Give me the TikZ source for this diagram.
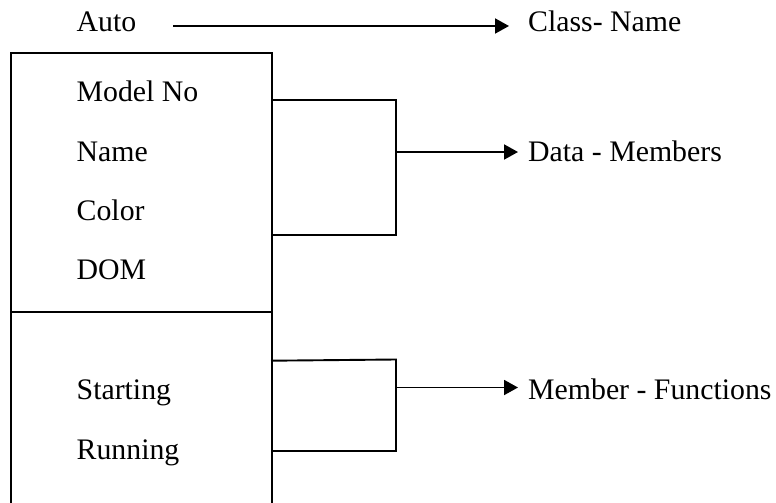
\documentclass[tikz,border=0pt]{standalone}
\usepackage{fontspec}
\setmainfont{Liberation Serif}
\usetikzlibrary{arrows.meta}
\begin{document}
\begin{tikzpicture}[x=1pt,y=-1pt,
  line/.style={line width=1.9pt, line cap=butt},
  arr/.style={line, -{Triangle[length=14pt,width=15pt]}},
  lbl/.style={inner sep=0pt, anchor=base west, font=\fontsize{29.8}{35}\selectfont}]
\useasboundingbox (0,0) rectangle (776,503);
\clip (0,0) rectangle (776,503);

% class outline (runs past the lower edge) and the member divider
\node[line, draw, inner sep=0pt, anchor=north west, minimum width=261pt, minimum height=480pt] (cls) at (10,51.7) {};
\coordinate (divL) at (10,312);
\coordinate (divR) at (271,312);
\draw[line] (divL) -- (divR);

% labels
\node[lbl] (auto)  at (76.5,32)  {Auto};
\node[lbl] (cname) at (528,32)   {Class- Name};
\node[lbl] (model) at (76.5,101) {Model No};
\node[lbl] (name)  at (76.5,161) {Name};
\node[lbl] (color) at (76.5,220) {Color};
\node[lbl] (dom)   at (76.5,279) {DOM};
\node[lbl] (start) at (76.5,399) {Starting};
\node[lbl] (run)   at (76.5,459) {Running};
\node[lbl] (dm)    at (528,161)  {Data - Members};
\node[lbl] (mf)    at (528,399)  {Member - Functions};

% class name arrow
\coordinate (a0) at (173,26);
\draw[arr, shorten >=19pt] (a0) -- (a0 -| cname.west);

% data member bracket
\coordinate (b1t) at (271,100);
\coordinate (b1b) at (271,235);
\coordinate (b1tr) at (396,100);
\coordinate (b1br) at (396,235);
\coordinate (b1m) at (396,152);
\draw[line] (b1t) -- (b1tr) -- (b1br) -- (b1b);
\draw[arr, shorten >=10pt] (b1m) -- (b1m -| dm.west);

% member function bracket
\coordinate (b2t) at (271,360.7);
\coordinate (b2b) at (271,451);
\coordinate (b2tr) at (396,359.5);
\coordinate (b2br) at (396,451);
\coordinate (b2m) at (396,387.5);
\draw[line] (b2t) -- (b2tr) -- (b2br) -- (b2b);
\draw[arr, shorten >=10pt] (b2m) -- (b2m -| mf.west);
\end{tikzpicture}
\end{document}
